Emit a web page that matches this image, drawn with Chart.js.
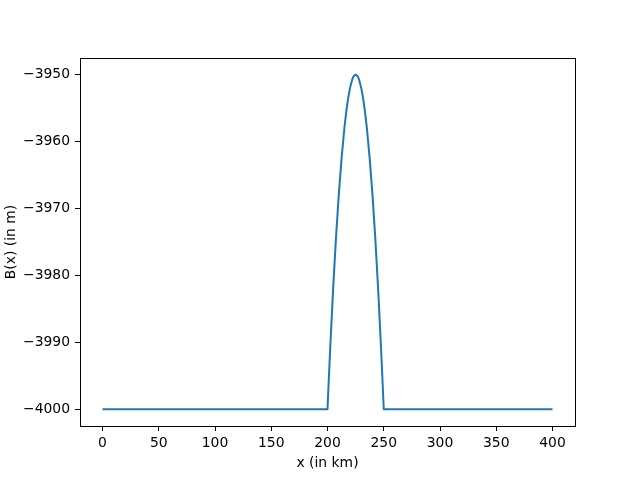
<!DOCTYPE html>
<html>
<head>
<meta charset="utf-8">
<script src="https://cdn.jsdelivr.net/npm/chart.js@4"></script>
<style>
  html, body { margin: 0; padding: 0; background: #fff; }
  #wrap { width: 640px; height: 480px; }
</style>
</head>
<body>
<div id="wrap"><canvas id="chart" width="640" height="480"></canvas></div>
<script>
// x positions (km) and bed elevation B(x) (m)
const xs = [0, 200, 201, 202.5, 205, 207.5, 210, 212.5, 215, 216, 217, 218, 219, 220, 221, 222, 223, 224, 225,
            226, 227, 228, 229, 230, 231, 232, 233, 234, 235, 237.5, 240, 242.5, 245, 247.5, 249, 250, 400];
const bed = [-4000, -4000, -3996.1, -3990.5, -3982, -3974.5, -3968, -3962.5, -3958, -3956.5, -3955.1, -3953.9,
             -3952.9, -3952, -3951.3, -3950.7, -3950.3, -3950.1, -3950,
             -3950.1, -3950.3, -3950.7, -3951.3, -3952, -3952.9, -3953.9, -3955.1, -3956.5, -3958,
             -3962.5, -3968, -3974.5, -3982, -3990.5, -3996.1, -4000, -4000];
const xTicks = [0, 50, 100, 150, 200, 250, 300, 350, 400];
const yTicks = [-4000, -3990, -3980, -3970, -3960, -3950];

const font = { family: 'DejaVu Sans', size: 13.9 };

const frame = {
    id: 'frame',
    afterDraw(chart) {
        const a = chart.chartArea, c = chart.ctx;
        c.save();
        c.strokeStyle = '#000';
        c.lineWidth = 1;
        c.strokeRect(Math.round(a.left) + 0.5, Math.round(a.top) + 0.5,
                     Math.round(a.right - a.left), Math.round(a.bottom - a.top));
        c.restore();
    }
};

new Chart(document.getElementById('chart').getContext('2d'), {
    type: 'line',
    data: {
        datasets: [{
            data: xs.map((x, i) => ({ x: x, y: bed[i] })),
            borderColor: '#1f77b4',
            borderWidth: 2,
            borderJoinStyle: 'round',
            borderCapStyle: 'butt',
            pointRadius: 0,
            tension: 0,
            fill: false
        }]
    },
    options: {
        responsive: false,
        animation: false,
        layout: { padding: { left: 0, right: 65, top: 58, bottom: 0 } },
        plugins: { legend: { display: false }, tooltip: { enabled: false } },
        scales: {
            x: {
                type: 'linear',
                min: -20, max: 420,
                afterBuildTicks: s => { s.ticks = xTicks.map(v => ({ value: v })); },
                afterFit: s => { s.height = 54; },
                grid: { drawOnChartArea: false, drawTicks: true, tickLength: 5, tickColor: '#000', color: '#000' },
                border: { display: false },
                ticks: { color: '#000', font: font, padding: 4, maxRotation: 0, autoSkip: false,
                         callback: v => String(v) },
                title: { display: true, text: 'x (in km)', color: '#000', font: font, padding: { top: 0, bottom: 8 } }
            },
            y: {
                type: 'linear',
                min: -4002.5, max: -3947.5,
                afterBuildTicks: s => { s.ticks = yTicks.map(v => ({ value: v })); },
                afterFit: s => { s.width = 80; },
                grid: { drawOnChartArea: false, drawTicks: true, tickLength: 5, tickColor: '#000', color: '#000' },
                border: { display: false },
                ticks: { color: '#000', font: font, padding: 5, autoSkip: false,
                         callback: v => String(v).replace('-', '\u2212') },
                title: { display: true, text: 'B(x) (in m)', color: '#000', font: font, padding: { top: 3, bottom: 0 } }
            }
        }
    },
    plugins: [frame]
});
</script>
</body>
</html>
